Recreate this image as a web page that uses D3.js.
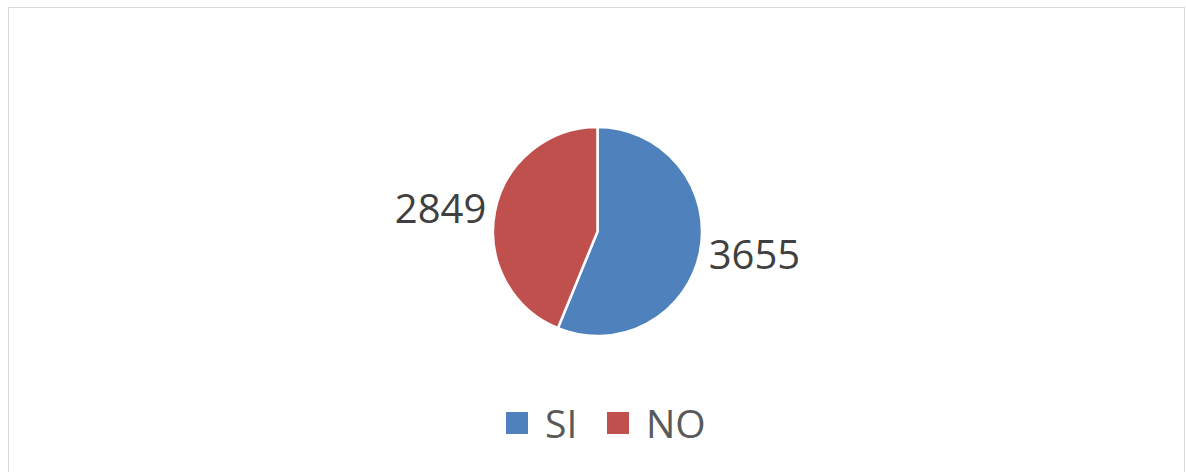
<!DOCTYPE html>
<html>
<head>
<meta charset="utf-8">
<script src="https://cdn.jsdelivr.net/npm/d3@7"></script>
<style>
  html, body { margin: 0; padding: 0; background: #fff; }
  svg { display: block; font-family: "Open Sans", sans-serif; }
</style>
</head>
<body>
<svg class="chart"></svg>
<script>
// data
var categories = ["SI", "NO"],
  values = [3655, 2849],
  colors = ["#4F81BD", "#C0504D"];

var width = 1186,
  height = 472,
  cx = 597.5,
  cy = 231.5,
  radius = 104.5,
  labelRadius = 160;

var svg = d3.select(".chart")
  .attr("width", width)
  .attr("height", height);

// chart frame
svg.append("rect")
  .attr("x", 8.5)
  .attr("y", 7.5)
  .attr("width", 1176)
  .attr("height", 480)
  .attr("fill", "#fff")
  .attr("stroke", "#d9d9d9");

var data = categories.map(function(c, i){
  return {name: c, value: values[i], color: colors[i]};
});

var pie = d3.pie()
  .sort(null)
  .value(function(d){ return d.value; });

var arc = d3.arc().innerRadius(0).outerRadius(radius),
  labelArc = d3.arc().innerRadius(labelRadius).outerRadius(labelRadius);

var g = svg.append("g")
  .attr("transform", "translate(" + cx + "," + cy + ")");

var arcs = pie(data);

g.selectAll(".slice")
  .data(arcs)
  .enter().append("path")
  .attr("class", "slice")
  .attr("d", arc)
  .attr("fill", function(d){ return d.data.color; })
  .attr("stroke", "#fff")
  .attr("stroke-width", 2.5)
  .attr("stroke-linejoin", "round");

//value labels outside the pie
g.selectAll(".label")
  .data(arcs)
  .enter().append("text")
  .attr("class", "label")
  .attr("transform", function(d){
    var c = labelArc.centroid(d);
    return "translate(" + c[0] + "," + (c[1] * 0.75) + ")";
  })
  .attr("dy", "0.36em")
  .attr("text-anchor", "middle")
  .attr("font-size", 40)
  .attr("fill", "#404040")
  .text(function(d){ return d.data.value; });

// legend
var legendX = [506, 607],
  legendY = 412;

var legend = svg.selectAll(".legend")
  .data(data)
  .enter().append("g")
  .attr("class", "legend")
  .attr("transform", function(d, i){ return "translate(" + legendX[i] + "," + legendY + ")"; });

legend.append("rect")
  .attr("width", 22)
  .attr("height", 22)
  .attr("fill", function(d){ return d.color; });

legend.append("text")
  .attr("x", 39)
  .attr("y", 26)
  .attr("font-size", 39)
  .attr("fill", "#595959")
  .text(function(d){ return d.name; });
</script>
</body>
</html>
